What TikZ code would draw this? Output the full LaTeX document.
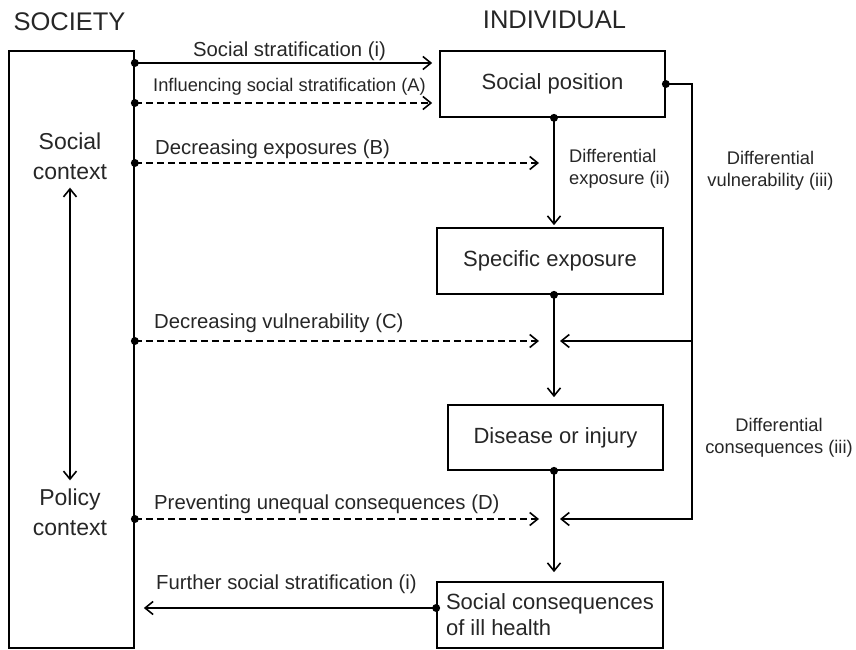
\documentclass[tikz,border=0pt]{standalone}
\usepackage{fontspec}
\setmainfont{Liberation Sans}
\usetikzlibrary{arrows.meta}

\tikzset{
  >={Straight Barb[length=8pt,width=13pt]},
  box/.style={draw, line width=1.7pt, inner sep=0pt, text=black!85, font=\fontsize{22}{26}\selectfont},
  hdr/.style={text=black!85, font=\fontsize{25.5}{30}\selectfont},
  ctx/.style={align=center, inner sep=8pt, text=black!85, font=\fontsize{23}{30}\selectfont},
  lbl/.style={inner sep=0pt, text=black!85, font=\fontsize{20.3}{24}\selectfont},
  smlbl/.style={inner sep=0pt, align=center, text=black!85, font=\fontsize{18.3}{22.5}\selectfont},
  flow/.style={line width=1.6pt, ->},
  dsh/.style={flow, dash pattern=on 7pt off 4pt},
}

\begin{document}
\begin{tikzpicture}[x=1pt,y=-1pt]
\useasboundingbox (0,0) rectangle (856,650);

% society column
\node[box, minimum width=125pt, minimum height=597pt] (society) at (71.5,349.5) {};
\node[hdr] (soclab) at (69.5,22) {SOCIETY};
\node[ctx] (soccon) at (70,156) {Social\\context};
\node[ctx] (polcon) at (70,512) {Policy\\context};
\draw[flow, <->] (soccon) -- (polcon);

% individual column
\node[hdr] (indlab) at (554.5,20) {INDIVIDUAL};
\node[box, minimum width=225pt, minimum height=66pt] (pos) at (552.5,84) {Social position};
\node[box, minimum width=226pt, minimum height=66pt] (expo) at (550,261) {Specific exposure};
\node[box, minimum width=215pt, minimum height=65pt] (dis) at (555.5,437.5) {Disease or injury};
\node[box, minimum width=226pt, minimum height=66pt, align=left] (cons) at (550,615) {Social consequences\\of ill health};

% levels of the horizontal connectors
\coordinate (lvI) at (0,63);
\coordinate (lvA) at (0,103);
\coordinate (lvB) at (0,163);
\coordinate (lvC) at (0,341);
\coordinate (lvD) at (0,519);
\coordinate (lvF) at (0,608);
\coordinate (spine) at (554,0);
\coordinate (rt) at (692,0);

\coordinate (sI) at (society.east |- lvI);
\coordinate (sA) at (society.east |- lvA);
\coordinate (sB) at (society.east |- lvB);
\coordinate (sC) at (society.east |- lvC);
\coordinate (sD) at (society.east |- lvD);
\coordinate (pS) at (spine |- pos.south);
\coordinate (eS) at (spine |- expo.south);
\coordinate (dS) at (spine |- dis.south);
\coordinate (pE) at (pos.east);
\coordinate (cW) at (cons.west |- lvF);

% society -> individual
\draw[flow, shorten >=7pt] (sI) -- (pos.west |- sI);
\draw[dsh, shorten >=7pt] (sA) -- (pos.west |- sA);
\draw[dsh, shorten >=15pt] (sB) -- (spine |- sB);
\draw[dsh, shorten >=15pt] (sC) -- (spine |- sC);
\draw[dsh, shorten >=15pt] (sD) -- (spine |- sD);
\draw[flow, shorten >=9pt] (cW) -- (society.east |- cW);

% causal chain
\draw[flow, shorten >=2pt] (pS) -- (spine |- expo.north);
\draw[flow, shorten >=7pt] (eS) -- (spine |- dis.north);
\draw[flow, shorten >=9pt] (dS) -- (spine |- cons.north);

% differential vulnerability / consequences
\draw[flow, shorten >=6pt] (pE) -- (rt |- pE) -- (rt |- lvD) -- (spine |- lvD);
\draw[flow, shorten >=6pt] (rt |- lvC) -- (spine |- lvC);

\foreach \c in {sI,sA,sB,sC,sD,pS,eS,dS,pE,cW}
  \fill (\c) circle (4pt);

% labels
\node[lbl] (labI) at (289.5,51) {Social stratification (i)};
\node[smlbl, anchor=west] (labA) at (153,87) {Influencing social stratification (A)};
\node[lbl, anchor=west] (labB) at (155,149) {Decreasing exposures (B)};
\node[lbl, anchor=west] (labC) at (154,323) {Decreasing vulnerability (C)};
\node[lbl, anchor=west] (labD) at (154,504) {Preventing unequal consequences (D)};
\node[lbl, anchor=west] (labF) at (156,584) {Further social stratification (i)};
\node[smlbl, align=left, anchor=west] (labii) at (569,169) {Differential\\exposure (ii)};
\node[smlbl] (labvul) at (770.5,171) {Differential\\vulnerability (iii)};
\node[smlbl] (labcon) at (779,438) {Differential\\consequences (iii)};
\end{tikzpicture}
\end{document}
